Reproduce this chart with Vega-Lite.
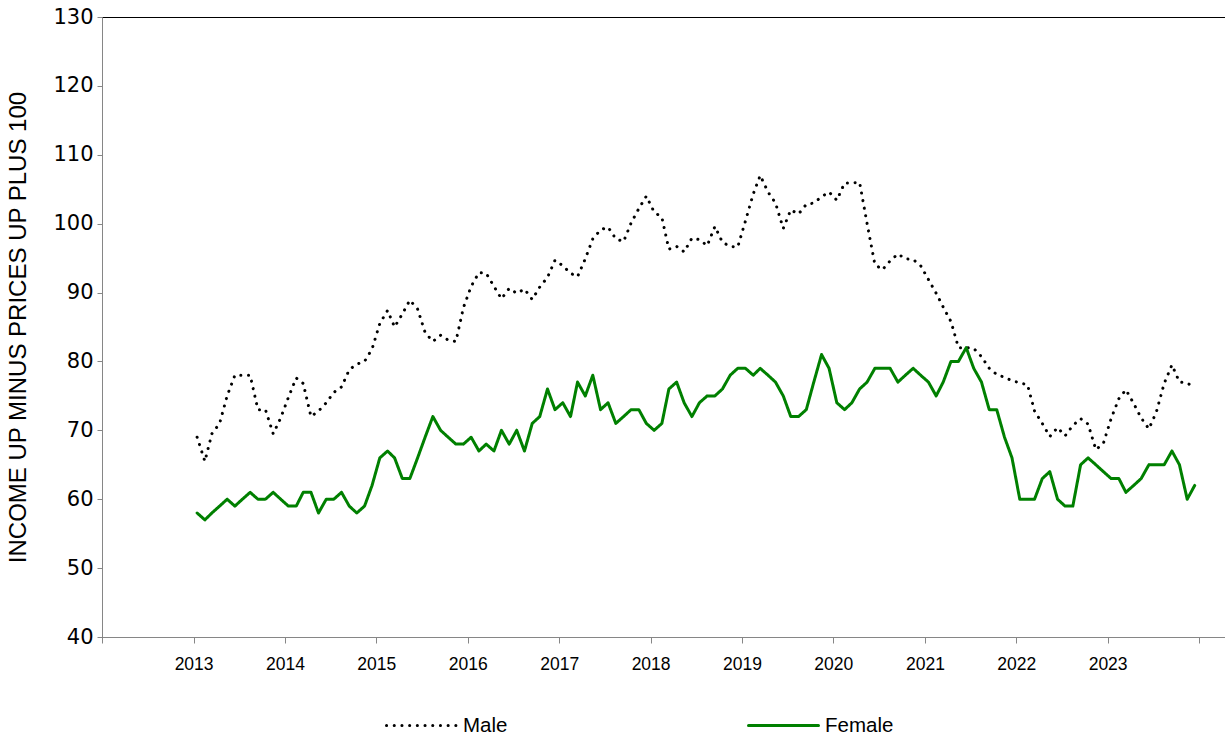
{
  "$schema": "https://vega.github.io/schema/vega-lite/v6.json",
  "width": 1123,
  "height": 620,
  "autosize": {"type": "none"},
  "padding": {"left": 102, "top": 17, "right": 0, "bottom": 105},
  "background": "white",
  "config": {
    "font": "Liberation Sans",
    "view": {"stroke": "black", "strokeWidth": 1},
    "axis": {
      "domainColor": "#868686",
      "tickColor": "#868686",
      "grid": false,
      "labelColor": "black",
      "labelFont": "Liberation Sans",
      "labelFontSize": 17.5,
      "titleFont": "Liberation Sans",
      "titleFontWeight": "normal",
      "titleColor": "black"
    },
    "legend": {"labelFont": "Liberation Sans"}
  },
  "data": {
    "values": [
      {"date": "2013-01-15", "Male": 69.0, "Female": 58},
      {"date": "2013-02-15", "Male": 65.5, "Female": 57},
      {"date": "2013-03-15", "Male": 69.5, "Female": 58},
      {"date": "2013-04-15", "Male": 71.0, "Female": 59},
      {"date": "2013-05-15", "Male": 75.0, "Female": 60},
      {"date": "2013-06-15", "Male": 78.0, "Female": 59},
      {"date": "2013-07-15", "Male": 78.0, "Female": 60},
      {"date": "2013-08-15", "Male": 78.0, "Female": 61},
      {"date": "2013-09-15", "Male": 73.0, "Female": 60},
      {"date": "2013-10-15", "Male": 73.0, "Female": 60},
      {"date": "2013-11-15", "Male": 69.5, "Female": 61},
      {"date": "2013-12-15", "Male": 71.8, "Female": 60},
      {"date": "2014-01-15", "Male": 74.8, "Female": 59},
      {"date": "2014-02-15", "Male": 77.6, "Female": 59},
      {"date": "2014-03-15", "Male": 76.8, "Female": 61},
      {"date": "2014-04-15", "Male": 72.0, "Female": 61},
      {"date": "2014-05-15", "Male": 72.8, "Female": 58},
      {"date": "2014-06-15", "Male": 74.0, "Female": 60},
      {"date": "2014-07-15", "Male": 75.5, "Female": 60},
      {"date": "2014-08-15", "Male": 76.3, "Female": 61},
      {"date": "2014-09-15", "Male": 78.8, "Female": 59},
      {"date": "2014-10-15", "Male": 79.6, "Female": 58},
      {"date": "2014-11-15", "Male": 80.0, "Female": 59},
      {"date": "2014-12-15", "Male": 81.8, "Female": 62},
      {"date": "2015-01-15", "Male": 85.5, "Female": 66},
      {"date": "2015-02-15", "Male": 87.4, "Female": 67},
      {"date": "2015-03-15", "Male": 85.0, "Female": 66},
      {"date": "2015-04-15", "Male": 86.9, "Female": 63},
      {"date": "2015-05-15", "Male": 88.9, "Female": 63},
      {"date": "2015-06-15", "Male": 87.6, "Female": 66},
      {"date": "2015-07-15", "Male": 84.2, "Female": 69},
      {"date": "2015-08-15", "Male": 82.9, "Female": 72},
      {"date": "2015-09-15", "Male": 83.8, "Female": 70},
      {"date": "2015-10-15", "Male": 83.1, "Female": 69},
      {"date": "2015-11-15", "Male": 82.9, "Female": 68},
      {"date": "2015-12-15", "Male": 87.8, "Female": 68},
      {"date": "2016-01-15", "Male": 90.9, "Female": 69},
      {"date": "2016-02-15", "Male": 92.9, "Female": 67},
      {"date": "2016-03-15", "Male": 92.8, "Female": 68},
      {"date": "2016-04-15", "Male": 90.9, "Female": 67},
      {"date": "2016-05-15", "Male": 89.1, "Female": 70},
      {"date": "2016-06-15", "Male": 90.6, "Female": 68},
      {"date": "2016-07-15", "Male": 89.9, "Female": 70},
      {"date": "2016-08-15", "Male": 90.5, "Female": 67},
      {"date": "2016-09-15", "Male": 89.0, "Female": 71},
      {"date": "2016-10-15", "Male": 90.8, "Female": 72},
      {"date": "2016-11-15", "Male": 92.2, "Female": 76},
      {"date": "2016-12-15", "Male": 94.7, "Female": 73},
      {"date": "2017-01-15", "Male": 93.9, "Female": 74},
      {"date": "2017-02-15", "Male": 92.8, "Female": 72},
      {"date": "2017-03-15", "Male": 92.3, "Female": 77},
      {"date": "2017-04-15", "Male": 94.9, "Female": 75},
      {"date": "2017-05-15", "Male": 97.8, "Female": 78},
      {"date": "2017-06-15", "Male": 99.1, "Female": 73},
      {"date": "2017-07-15", "Male": 99.5, "Female": 74},
      {"date": "2017-08-15", "Male": 97.8, "Female": 71},
      {"date": "2017-09-15", "Male": 97.4, "Female": 72},
      {"date": "2017-10-15", "Male": 100.1, "Female": 73},
      {"date": "2017-11-15", "Male": 102.2, "Female": 73},
      {"date": "2017-12-15", "Male": 104.0, "Female": 71},
      {"date": "2018-01-15", "Male": 101.7, "Female": 70},
      {"date": "2018-02-15", "Male": 100.9, "Female": 71},
      {"date": "2018-03-15", "Male": 96.3, "Female": 76},
      {"date": "2018-04-15", "Male": 96.7, "Female": 77},
      {"date": "2018-05-15", "Male": 95.9, "Female": 74},
      {"date": "2018-06-15", "Male": 97.9, "Female": 72},
      {"date": "2018-07-15", "Male": 97.7, "Female": 74},
      {"date": "2018-08-15", "Male": 96.8, "Female": 75},
      {"date": "2018-09-15", "Male": 99.6, "Female": 75},
      {"date": "2018-10-15", "Male": 97.3, "Female": 76},
      {"date": "2018-11-15", "Male": 96.7, "Female": 78},
      {"date": "2018-12-15", "Male": 96.6, "Female": 79},
      {"date": "2019-01-15", "Male": 100.4, "Female": 79},
      {"date": "2019-02-15", "Male": 104.3, "Female": 78},
      {"date": "2019-03-15", "Male": 107.0, "Female": 79},
      {"date": "2019-04-15", "Male": 104.6, "Female": 78},
      {"date": "2019-05-15", "Male": 103.0, "Female": 77},
      {"date": "2019-06-15", "Male": 99.3, "Female": 75},
      {"date": "2019-07-15", "Male": 102.0, "Female": 72},
      {"date": "2019-08-15", "Male": 101.4, "Female": 72},
      {"date": "2019-09-15", "Male": 102.8, "Female": 73},
      {"date": "2019-10-15", "Male": 103.0, "Female": 77},
      {"date": "2019-11-15", "Male": 103.9, "Female": 81},
      {"date": "2019-12-15", "Male": 104.6, "Female": 79},
      {"date": "2020-01-15", "Male": 103.4, "Female": 74},
      {"date": "2020-02-15", "Male": 105.9, "Female": 73},
      {"date": "2020-03-15", "Male": 105.9, "Female": 74},
      {"date": "2020-04-15", "Male": 106.0, "Female": 76},
      {"date": "2020-05-15", "Male": 100.0, "Female": 77},
      {"date": "2020-06-15", "Male": 94.1, "Female": 79},
      {"date": "2020-07-15", "Male": 93.3, "Female": 79},
      {"date": "2020-08-15", "Male": 94.6, "Female": 79},
      {"date": "2020-09-15", "Male": 95.6, "Female": 77},
      {"date": "2020-10-15", "Male": 94.9, "Female": 78},
      {"date": "2020-11-15", "Male": 94.8, "Female": 79},
      {"date": "2020-12-15", "Male": 93.9, "Female": 78},
      {"date": "2021-01-15", "Male": 91.9, "Female": 77},
      {"date": "2021-02-15", "Male": 89.9, "Female": 75},
      {"date": "2021-03-15", "Male": 87.9, "Female": 77},
      {"date": "2021-04-15", "Male": 85.8, "Female": 80},
      {"date": "2021-05-15", "Male": 82.0, "Female": 80},
      {"date": "2021-06-15", "Male": 82.0, "Female": 82},
      {"date": "2021-07-15", "Male": 81.9, "Female": 79},
      {"date": "2021-08-15", "Male": 80.7, "Female": 77},
      {"date": "2021-09-15", "Male": 79.0, "Female": 73},
      {"date": "2021-10-15", "Male": 78.1, "Female": 73},
      {"date": "2021-11-15", "Male": 77.7, "Female": 69},
      {"date": "2021-12-15", "Male": 77.2, "Female": 66},
      {"date": "2022-01-15", "Male": 76.9, "Female": 60},
      {"date": "2022-02-15", "Male": 76.6, "Female": 60},
      {"date": "2022-03-15", "Male": 72.8, "Female": 60},
      {"date": "2022-04-15", "Male": 71.0, "Female": 63},
      {"date": "2022-05-15", "Male": 69.1, "Female": 64},
      {"date": "2022-06-15", "Male": 70.4, "Female": 60},
      {"date": "2022-07-15", "Male": 69.2, "Female": 59},
      {"date": "2022-08-15", "Male": 70.7, "Female": 59},
      {"date": "2022-09-15", "Male": 71.7, "Female": 65},
      {"date": "2022-10-15", "Male": 70.9, "Female": 66},
      {"date": "2022-11-15", "Male": 67.2, "Female": 65},
      {"date": "2022-12-15", "Male": 68.1, "Female": 64},
      {"date": "2023-01-15", "Male": 71.7, "Female": 63},
      {"date": "2023-02-15", "Male": 74.6, "Female": 63},
      {"date": "2023-03-15", "Male": 75.9, "Female": 61},
      {"date": "2023-04-15", "Male": 73.9, "Female": 62},
      {"date": "2023-05-15", "Male": 71.8, "Female": 63},
      {"date": "2023-06-15", "Male": 70.2, "Female": 65},
      {"date": "2023-07-15", "Male": 72.7, "Female": 65},
      {"date": "2023-08-15", "Male": 76.8, "Female": 65},
      {"date": "2023-09-15", "Male": 79.5, "Female": 67},
      {"date": "2023-10-15", "Male": 77.0, "Female": 65},
      {"date": "2023-11-15", "Male": 76.9, "Female": 60},
      {"date": "2023-12-15", "Male": 76.1, "Female": 62}
    ]
  },
  "transform": [
    {"fold": ["Male", "Female"], "as": ["series", "value"]}
  ],
  "mark": {"type": "line", "strokeWidth": 3, "strokeCap": "round", "strokeJoin": "round", "clip": true},
  "encoding": {
    "x": {
      "field": "date",
      "type": "temporal",
      "title": null,
      "scale": {
        "type": "utc",
        "domain": [
          {"year": 2012, "month": 1, "date": 1, "utc": true},
          {"year": 2024, "month": 4, "date": 14, "utc": true}
        ]
      },
      "axis": {
        "values": [
          {"year": 2012, "month": 1, "date": 1, "utc": true},
          {"year": 2013, "month": 1, "date": 1, "utc": true},
          {"year": 2014, "month": 1, "date": 1, "utc": true},
          {"year": 2015, "month": 1, "date": 1, "utc": true},
          {"year": 2016, "month": 1, "date": 1, "utc": true},
          {"year": 2017, "month": 1, "date": 1, "utc": true},
          {"year": 2018, "month": 1, "date": 1, "utc": true},
          {"year": 2019, "month": 1, "date": 1, "utc": true},
          {"year": 2020, "month": 1, "date": 1, "utc": true},
          {"year": 2021, "month": 1, "date": 1, "utc": true},
          {"year": 2022, "month": 1, "date": 1, "utc": true},
          {"year": 2023, "month": 1, "date": 1, "utc": true},
          {"year": 2024, "month": 1, "date": 1, "utc": true}
        ],
        "format": "%Y",
        "labelExpr": "utcyear(datum.value) < 2013 || utcyear(datum.value) > 2023 ? '' : datum.label",
        "tickSize": 6,
        "labelPadding": 12,
        "labelFlush": false,
        "labelOverlap": false
      }
    },
    "y": {
      "field": "value",
      "type": "quantitative",
      "title": "INCOME UP MINUS PRICES UP PLUS 100",
      "scale": {"domain": [40, 130], "nice": false, "zero": false},
      "axis": {
        "values": [40, 50, 60, 70, 80, 90, 100, 110, 120, 130],
        "tickSize": 5,
        "labelPadding": 4,
        "labelFlush": false,
        "labelFont": "DejaVu Sans",
        "labelFontSize": 21,
        "titleFontSize": 24,
        "titleX": -84,
        "titleY": 310,
        "titleAngle": -90,
        "titleAlign": "center",
        "titleBaseline": "middle"
      }
    },
    "color": {
      "field": "series",
      "type": "nominal",
      "scale": {"domain": ["Male", "Female"], "range": ["#000000", "#008000"]},
      "legend": {
        "title": null,
        "orient": "none",
        "legendX": 283,
        "legendY": 672,
        "direction": "horizontal",
        "symbolType": "stroke",
        "symbolSize": 4900,
        "symbolStrokeWidth": 3,
        "labelFontSize": 20.5,
        "labelOffset": 5,
        "columnPadding": 234,
        "padding": 0,
        "encode": {"symbols": {"update": {"strokeCap": {"value": "round"}}}}
      }
    },
    "strokeDash": {
      "field": "series",
      "type": "nominal",
      "scale": {"domain": ["Male", "Female"], "range": [[0.1, 7.6], [1, 0]]},
      "legend": {"title": null}
    }
  }
}
